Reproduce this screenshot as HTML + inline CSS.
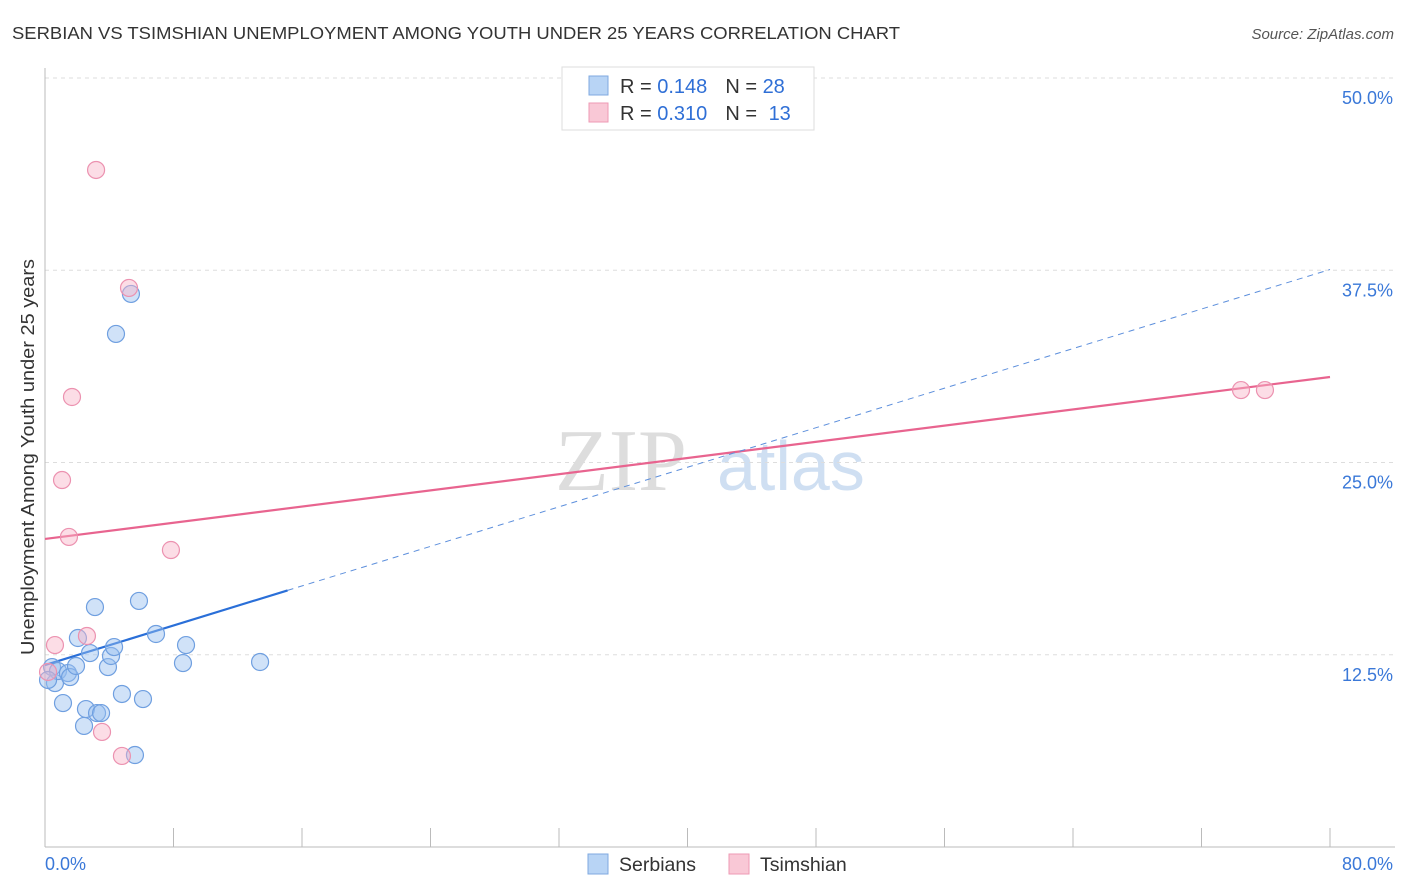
<!DOCTYPE html>
<html><head><meta charset="utf-8"><style>
body{margin:0;background:#fff;font-family:"Liberation Sans",sans-serif;}
svg{display:block}
</style></head><body>
<svg id="chart" width="1406" height="892" xmlns="http://www.w3.org/2000/svg">
<text x="12" y="39" font-size="17.5" fill="#333" textLength="888" lengthAdjust="spacingAndGlyphs">SERBIAN VS TSIMSHIAN UNEMPLOYMENT AMONG YOUTH UNDER 25 YEARS CORRELATION CHART</text>
<text x="1394" y="39" font-size="15" fill="#555" font-style="italic" text-anchor="end">Source: ZipAtlas.com</text>
<g>
<text x="555" y="490" font-size="88" fill="#ddd" font-family="Liberation Serif,serif">ZIP</text>
<text x="717" y="490" font-size="70" fill="#cfdff2">atlas</text>
</g>
<g id="grid"></g>
<g id="axes"></g>
<g id="lines"></g>
<g id="points"></g>
<text x="34" y="457" font-size="18" fill="#333" text-anchor="middle" transform="rotate(-90 34 457)" textLength="396" lengthAdjust="spacingAndGlyphs">Unemployment Among Youth under 25 years</text>
<g>
<rect x="562" y="67" width="252" height="63" fill="#fff" stroke="#ddd"/>
<rect x="589" y="76" width="19" height="19" fill="#b8d4f5" stroke="#7fa9e0"/>
<text x="620" y="93" font-size="20" fill="#333">R = <tspan fill="#2f6fd6">0.148</tspan><tspan dx="18">N = </tspan><tspan fill="#2f6fd6">28</tspan></text>
<rect x="589" y="103" width="19" height="19" fill="#f9c8d6" stroke="#ee9ab4"/>
<text x="620" y="120" font-size="20" fill="#333">R = <tspan fill="#2f6fd6">0.310</tspan><tspan dx="18">N = </tspan><tspan fill="#2f6fd6" dx="6">13</tspan></text>
</g>
<g>
<rect x="588" y="854" width="20" height="20" fill="#b8d4f5" stroke="#7fa9e0"/>
<text x="619" y="871" font-size="19.5" fill="#333">Serbians</text>
<rect x="729" y="854" width="20" height="20" fill="#f9c8d6" stroke="#ee9ab4"/>
<text x="760" y="871" font-size="19.5" fill="#333">Tsimshian</text>
</g>
</svg>
<script>
const serbX=[0.44,0.62,0.81,1.12,1.43,1.56,1.93,2.05,2.43,2.55,2.80,3.11,3.24,3.49,3.92,4.11,4.30,4.42,4.79,5.35,5.60,5.85,6.10,6.91,8.59,8.78,13.39,0.19];
const serbY=[11.70,10.66,11.44,9.36,11.31,11.05,11.77,13.59,7.87,8.97,12.61,15.60,8.71,8.71,11.70,12.42,13.00,33.36,9.95,35.96,5.98,16.00,9.62,13.85,11.96,13.13,12.03,10.86];
const tsimX=[0.19,0.62,1.06,1.49,1.68,2.61,3.18,3.55,4.79,5.23,7.84,74.46,75.95];
const tsimY=[11.38,13.13,23.86,20.16,29.26,13.72,44.02,7.48,5.92,36.35,19.31,29.71,29.71];
const yTicks=[12.5,25,37.5,50];
const yTickLabels=["12.5%","25.0%","37.5%","50.0%"];
const xTickVals=[0,8,16,24,32,40,48,56,64,72,80];
const serbTrend=[11.83,0.3215]; // intercept, slope
const tsimTrend=[20.03,0.1316];
const serbSolidEnd=15.1;

const NS="http://www.w3.org/2000/svg";
const xs=v=>45+v/80*1285;
const ys=v=>847-v/50*769;
function mk(parent,tag,attrs){const e=document.createElementNS(NS,tag);for(const k in attrs)e.setAttribute(k,attrs[k]);document.getElementById(parent).appendChild(e);return e;}

yTicks.forEach((t,i)=>{
  const l=mk('grid','line',{x1:45,x2:1395,y1:ys(t),y2:ys(t),stroke:'#ddd','stroke-dasharray':'4,4'});
  
  
  const tx=mk('grid','text',{x:1393,y:ys(t)+26,'font-size':18,fill:'#3a78d8','text-anchor':'end'});
  tx.textContent=yTickLabels[i];
  
  
});
let a=mk('axes','line',{x1:45,x2:45,y1:68,y2:847,stroke:'#bbb'});


a=mk('axes','line',{x1:45,x2:1395,y1:847,y2:847,stroke:'#bbb'});


xTickVals.forEach(v=>{
  const t=mk('axes','line',{x1:xs(v),x2:xs(v),y1:828,y2:847,stroke:'#bbb'});
  
  
});
[[0,'0.0%','start',45],[80,'80.0%','end',1393]].forEach(d=>{
  const t=mk('axes','text',{x:d[3],y:870,'font-size':18,fill:'#3a78d8','text-anchor':d[2]});
  t.textContent=d[1];
  
  
});

function pts(X,Y,fill,stroke,name){
  X.forEach((x,i)=>{
    const c=mk('points','circle',{cx:xs(x),cy:ys(Y[i]),r:8.5,fill:fill,stroke:stroke,'stroke-width':1.2});
    
    
  });
}
pts(serbX,serbY,'rgba(150,190,240,0.45)','#6f9fe0','serbian-point');
pts(tsimX,tsimY,'rgba(248,180,200,0.45)','#ec92b0','tsimshian-point');

let l=mk('lines','line',{x1:xs(0),y1:ys(tsimTrend[0]),x2:xs(80),y2:ys(tsimTrend[0]+tsimTrend[1]*80),stroke:'#e8648f','stroke-width':2.2});


l=mk('lines','line',{x1:xs(serbSolidEnd),y1:ys(serbTrend[0]+serbTrend[1]*serbSolidEnd),x2:xs(80),y2:ys(serbTrend[0]+serbTrend[1]*80),stroke:'#5d8fdc','stroke-width':1,'stroke-dasharray':'6,5'});


l=mk('lines','line',{x1:xs(0),y1:ys(serbTrend[0]),x2:xs(serbSolidEnd),y2:ys(serbTrend[0]+serbTrend[1]*serbSolidEnd),stroke:'#2a6fd8','stroke-width':2.2});


</script>
</body></html>
